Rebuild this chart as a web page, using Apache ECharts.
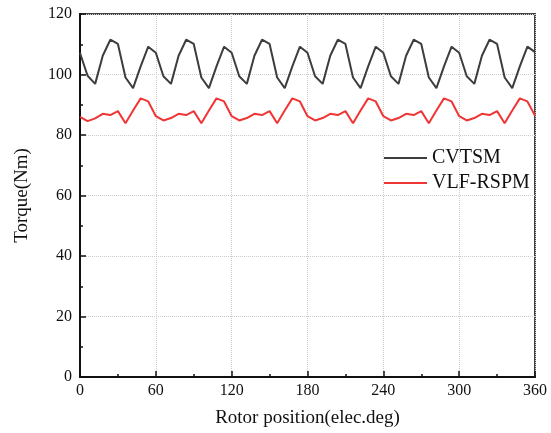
<!DOCTYPE html>
<html>
<head>
<meta charset="utf-8">
<script src="https://cdn.jsdelivr.net/npm/echarts@6/dist/echarts.min.js"></script>
<style>html,body{margin:0;padding:0;background:#fff}#c{width:551px;height:433px}</style>
</head>
<body>
<div id="c"></div>
<script>
var angles = [0,6,12,18,24,30,36,42,48,54,60,66,72,78,84,90,96,102,108,114,120,126,132,138,144,150,156,162,168,174,180,186,192,198,204,210,216,222,228,234,240,246,252,258,264,270,276,282,288,294,300,306,312,318,324,330,336,342,348,354,360];
var cvtsm = [107.1,99.6,96.9,106.2,111.5,110.1,99.0,95.5,102.7,109.2,
             107.2,99.4,96.9,106.2,111.5,110.1,99.0,95.5,102.7,109.2,
             107.2,99.4,96.9,106.2,111.5,110.1,99.0,95.5,102.7,109.2,
             107.2,99.4,96.9,106.2,111.5,110.1,99.0,95.5,102.7,109.2,
             107.2,99.4,96.9,106.2,111.5,110.1,99.0,95.5,102.7,109.2,
             107.2,99.4,96.9,106.2,111.5,110.1,99.0,95.5,102.7,109.2,
             107.4];
var vlfrspm = [86.0,84.6,85.5,87.0,86.6,87.9,83.9,88.1,92.1,91.1,
               86.2,84.8,85.6,87.0,86.6,87.9,83.9,88.1,92.1,91.1,
               86.2,84.8,85.6,87.0,86.6,87.9,83.9,88.1,92.1,91.1,
               86.2,84.8,85.6,87.0,86.6,87.9,83.9,88.1,92.1,91.1,
               86.2,84.8,85.6,87.0,86.6,87.9,83.9,88.1,92.1,91.1,
               86.2,84.8,85.6,87.0,86.6,87.9,83.9,88.1,92.1,91.1,
               86.4];
var seriesNames = ['CVTSM','VLF-RSPM'];
var font = '"Liberation Serif","Times New Roman",serif';
function pairs(v){ return angles.map(function(a,i){ return [a, v[i]]; }); }
var chart = echarts.init(document.getElementById('c'));
chart.setOption({
  animation:false,
  backgroundColor:'#fff',
  grid:{left:80,right:16,top:14,bottom:53,show:true,borderColor:'#444',borderWidth:2,backgroundColor:'transparent'},
  legend:{
    orient:'vertical', left:379, top:142, itemWidth:43, itemHeight:2, itemGap:3,
    icon:'rect',
    textStyle:{fontFamily:font,fontSize:20,color:'#111',lineHeight:22},
    data:seriesNames
  },
  xAxis:{
    type:'value', min:0, max:360, interval:60,
    name:'Rotor position(elec.deg)', nameLocation:'middle', nameGap:32,
    nameTextStyle:{fontFamily:font,fontSize:19,color:'#111'},
    axisLine:{lineStyle:{color:'#111',width:2}},
    axisTick:{inside:true,length:6,lineStyle:{color:'#111',width:1.5}},
    minorTick:{show:true,splitNumber:2,length:3,lineStyle:{color:'#111',width:1.5}},
    axisLabel:{fontFamily:font,fontSize:16,color:'#111',margin:6},
    splitLine:{show:true,lineStyle:{color:'#ccc',type:'dotted',width:1}}
  },
  yAxis:{
    type:'value', min:0, max:120, interval:20,
    name:'Torque(Nm)', nameLocation:'middle', nameGap:48,
    nameTextStyle:{fontFamily:font,fontSize:19,color:'#111'},
    axisLine:{show:true,lineStyle:{color:'#111',width:2}},
    axisTick:{show:true,inside:true,length:6,lineStyle:{color:'#111',width:1.5}},
    minorTick:{show:true,splitNumber:2,length:3,lineStyle:{color:'#111',width:1.5}},
    axisLabel:{fontFamily:font,fontSize:16,color:'#111',margin:8},
    splitLine:{show:true,lineStyle:{color:'#ccc',type:'dotted',width:1}}
  },
  series:[
    {name:seriesNames[0],type:'line',data:pairs(cvtsm),showSymbol:false,symbol:'none',
     lineStyle:{color:'#3d3d3d',width:2},itemStyle:{color:'#3d3d3d'}},
    {name:seriesNames[1],type:'line',data:pairs(vlfrspm),showSymbol:false,symbol:'none',
     lineStyle:{color:'#f03535',width:2},itemStyle:{color:'#f03535'}}
  ]
});
</script>
</body>
</html>
